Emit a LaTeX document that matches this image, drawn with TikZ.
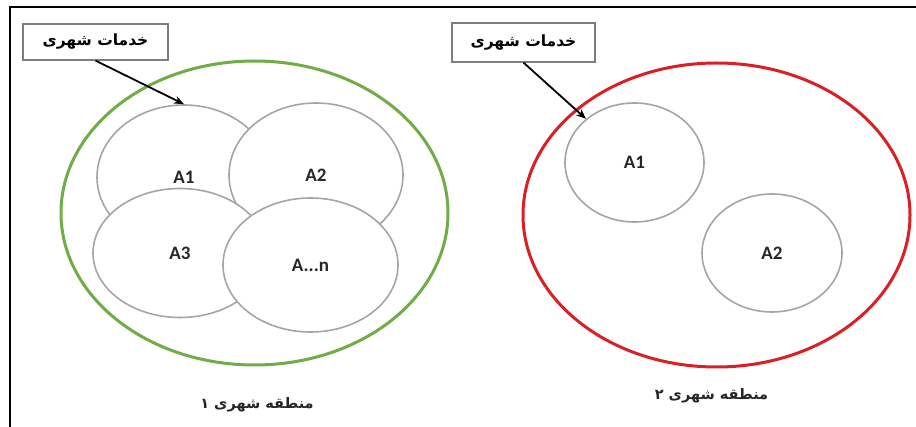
\documentclass[tikz,border=0pt]{standalone}
\usepackage{fontspec}
\newfontfamily\arabicfont[Script=Arabic]{DejaVu Sans}
\newfontfamily\latinfont{Carlito}
\TeXXeTstate=1
\usetikzlibrary{shapes.geometric,arrows.meta}
\definecolor{zgreen}{RGB}{112,173,71}
\definecolor{zred}{RGB}{218,32,38}
\definecolor{zgray}{RGB}{165,165,165}
\definecolor{boxgray}{RGB}{125,125,125}
\begin{document}
\begin{tikzpicture}[x=1pt,y=-1pt,
  region/.style={ellipse, draw, line width=3pt, inner sep=0pt},
  zone/.style={ellipse, draw=zgray, line width=1.6pt, fill=white, inner sep=0pt,
    text=black!85, font=\latinfont\bfseries\fontsize{19}{19}\selectfont},
  tag/.style={draw=boxgray, line width=1.2pt, fill=white, inner sep=0pt,
    font=\arabicfont\bfseries\fontsize{15.5}{17}\selectfont},
  caption/.style={inner sep=0pt, text=black!85, font=\arabicfont\bfseries\fontsize{14.5}{16}\selectfont},
  pointer/.style={line width=1.8pt, -{Stealth[length=10pt,width=8pt]}}]
\useasboundingbox (0,0) rectangle (916,427);
\fill[white] (0,0) rectangle (916,427);
\draw[line width=2pt] (9.5,427) -- (9.5,7) -- (916,7);

% left region
\node[region, draw=zgreen, minimum width=387pt, minimum height=304pt] (reg1) at (254.5,213) {};
\node[zone, minimum width=174pt, minimum height=144pt] (lA1) at (184,177) {A1};
\node[zone, minimum width=174pt, minimum height=144pt] (lA2) at (316,175) {A2};
\node[zone, minimum width=174pt, minimum height=129pt] (lA3) at (180,253) {A3};
\node[zone, minimum width=175pt, minimum height=134pt] (lAn) at (310.5,265) {A...n};
\node[tag, minimum width=145pt, minimum height=36pt] (box1) at (95.5,42) {\beginR خدمات شهری\endR};
\node[caption] (cap1) at (257,405) {\beginR منطقه شهری ۱\endR};
\draw[pointer] (box1.south) -- (lA1.north);

% right region
\node[region, draw=zred, minimum width=387pt, minimum height=304pt] (reg2) at (716.5,215) {};
\node[zone, minimum width=139pt, minimum height=119pt] (rA1) at (634.5,162.5) {A1};
\node[zone, minimum width=140pt, minimum height=118pt] (rA2) at (772,253) {A2};
\node[tag, minimum width=143pt, minimum height=39pt] (box2) at (523.5,42.5) {\beginR خدمات شهری\endR};
\node[caption] (cap2) at (711.5,396) {\beginR منطقه شهری ۲\endR};
\draw[pointer] (box2.south) -- (rA1);
\end{tikzpicture}
\end{document}
